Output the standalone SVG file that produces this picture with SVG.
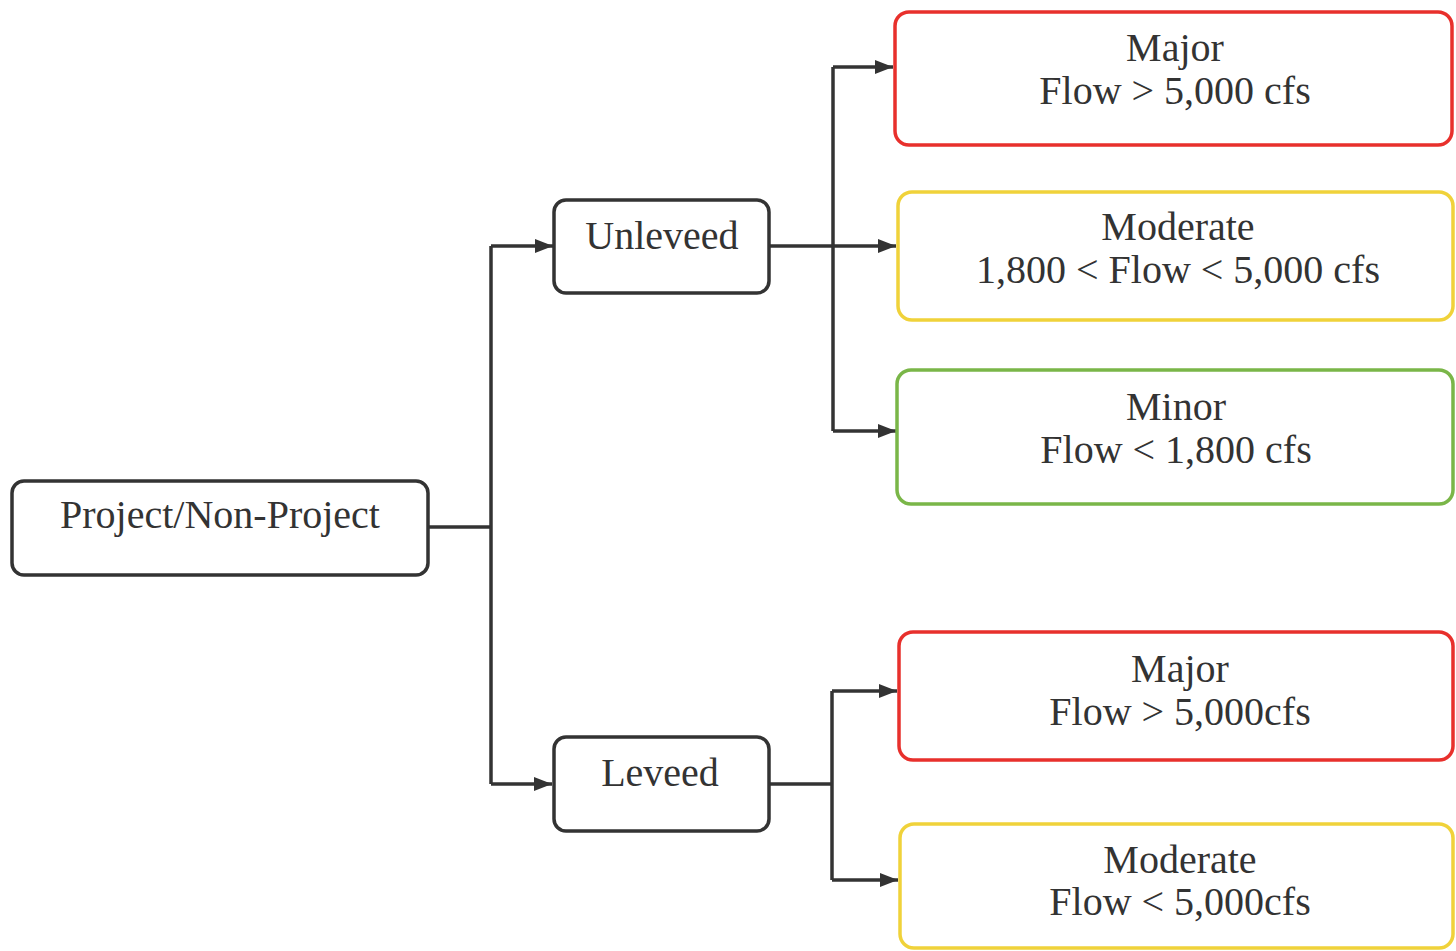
<svg xmlns="http://www.w3.org/2000/svg" width="1456" height="951" viewBox="0 0 1456 951">
<style>
text{font-family:'Liberation Serif','Times New Roman',serif;font-size:40px;fill:#333;text-anchor:middle}
.k{fill:#fff;stroke:#333;stroke-width:3.5}
.r{fill:#fff;stroke:#e8302c;stroke-width:3.5}
.y{fill:#fff;stroke:#f0d23a;stroke-width:3.5}
.g{fill:#fff;stroke:#7ab648;stroke-width:3.5}
.c{fill:none;stroke:#333;stroke-width:3.5}
</style>
<defs>
<marker id="ah" markerUnits="userSpaceOnUse" markerWidth="20" markerHeight="18" refX="18" refY="9" orient="auto">
<path d="M0,2 L18,9 L0,16 Z" fill="#333"/>
</marker>
</defs>
<rect width="1456" height="951" fill="#fff"/>
<g id="connectors">
<path class="c" d="M428,527 H491"/>
<path class="c" d="M491,246 V784"/>
<path class="c" d="M491,246 H553" marker-end="url(#ah)"/>
<path class="c" d="M491,784 H552" marker-end="url(#ah)"/>
<path class="c" d="M769,246 H896" marker-end="url(#ah)"/>
<path class="c" d="M833,67 V431"/>
<path class="c" d="M833,67 H893" marker-end="url(#ah)"/>
<path class="c" d="M833,431 H896" marker-end="url(#ah)"/>
<path class="c" d="M769,784 H832"/>
<path class="c" d="M832,691 V880"/>
<path class="c" d="M832,691 H897" marker-end="url(#ah)"/>
<path class="c" d="M832,880 H898" marker-end="url(#ah)"/>
</g>
<g id="project">
<rect class="k" x="12" y="481" width="416" height="94" rx="12"/>
<text x="220" y="528">Project/Non-Project</text>
</g>
<g id="unleveed">
<rect class="k" x="554" y="200" width="215" height="93" rx="12"/>
<text x="662" y="249">Unleveed</text>
</g>
<g id="leveed">
<rect class="k" x="554" y="737" width="215" height="94" rx="12"/>
<text x="660" y="786">Leveed</text>
</g>
<g id="major1">
<rect class="r" x="895" y="12" width="557" height="133" rx="14"/>
<text x="1175" y="61">Major</text>
<text x="1175" y="104">Flow &gt; 5,000 cfs</text>
</g>
<g id="moderate1">
<rect class="y" x="898" y="192" width="555" height="128" rx="14"/>
<text x="1178" y="240">Moderate</text>
<text x="1178" y="283">1,800 &lt; Flow &lt; 5,000 cfs</text>
</g>
<g id="minor">
<rect class="g" x="897" y="370" width="556" height="134" rx="14"/>
<text x="1176" y="420">Minor</text>
<text x="1176" y="463">Flow &lt; 1,800 cfs</text>
</g>
<g id="major2">
<rect class="r" x="899" y="632" width="554" height="128" rx="14"/>
<text x="1180" y="682">Major</text>
<text x="1180" y="725">Flow &gt; 5,000cfs</text>
</g>
<g id="moderate2">
<rect class="y" x="900" y="824" width="553" height="124" rx="14"/>
<text x="1180" y="873">Moderate</text>
<text x="1180" y="915">Flow &lt; 5,000cfs</text>
</g>
</svg>
